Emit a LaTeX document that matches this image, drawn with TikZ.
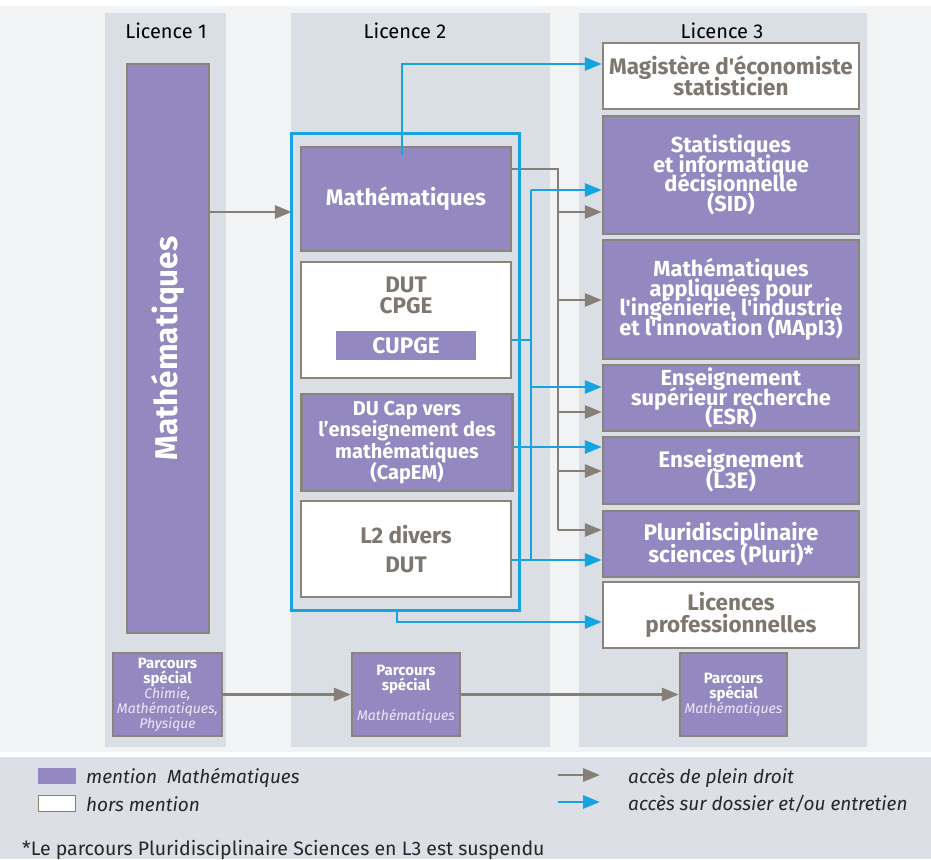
\documentclass[tikz,border=0pt]{standalone}
\usepackage{fontspec}
\setmainfont{Fira Sans}[Ligatures=TeXOff]
\usetikzlibrary{arrows.meta,calc}
\definecolor{mpurple}{HTML}{9388BF}
\definecolor{bordgray}{HTML}{8A847D}
\definecolor{txtgray}{HTML}{7D776F}
\definecolor{colbg}{HTML}{DADEE5}
\definecolor{mainbg}{HTML}{F2F3F5}
\definecolor{legbg}{HTML}{DCDFE5}
\definecolor{ablue}{HTML}{16A3E2}
\definecolor{agray}{HTML}{857F78}
\definecolor{lavtxt}{HTML}{ECE8F8}
\newcommand\ap{'}
\newcommand\tightls{\lineskiplimit=-50pt\relax}
\newcommand\fs[2]{\fontsize{#1}{#2}\selectfont\tightls}
\begin{document}
\begin{tikzpicture}[x=1pt,y=-1pt,
  pbox/.style={draw=bordgray,line width=2.4pt,fill=mpurple,text=white,align=center,inner sep=0pt,
    font=\fs{22.5}{22}\bfseries},
  tight/.style={font=\fs{21.8}{19.6}\bfseries},
  wbox/.style={draw=bordgray,line width=2.4pt,fill=white,text=txtgray,align=center,inner sep=0pt,
    font=\fs{22.5}{22.5}\bfseries},
  parbox/.style={draw=bordgray,line width=2.4pt,fill=mpurple,text=white,align=center,inner sep=0pt,
    font=\fs{14}{15},minimum width=108pt,minimum height=83pt},
  head/.style={font=\fs{20}{22},text=black,inner sep=0pt},
  grayline/.style={draw=agray,line width=2.9pt},
  grayarr/.style={draw=agray,line width=2.9pt,-{Triangle[length=17pt,width=13pt]}},
  blueline/.style={draw=ablue,line width=2.9pt},
  bluearr/.style={draw=ablue,line width=2.9pt,-{Triangle[length=17pt,width=13pt]}},
  legtxt/.style={font=\fs{19}{21}\itshape,text=black!85,inner sep=0pt,anchor=west}
]
\useasboundingbox (0,0) rectangle (931,859);
\fill[white] (0,0) rectangle (931,859);
\fill[mainbg] (0,6) rectangle (931,752);
\fill[legbg] (0,757) rectangle (931,859);
% columns
\fill[colbg] (105,13) rectangle (226,747);
\fill[colbg] (291,13) rectangle (550,747);
\fill[colbg] (579,13) rectangle (867,747);
\node[head] (h1) at (166,31) {Licence 1};
\node[head] (h2) at (405,31) {Licence 2};
\node[head] (h3) at (722,31) {Licence 3};

% L1
\node[pbox,minimum width=82pt,minimum height=569pt] (l1math) at (168,348.5) {};
\node[rotate=90,text=white,font=\fs{31.5}{34}\bfseries,inner sep=0pt] (l1mtxt) at (l1math.center) {Mathématiques};

% L2
\node[minimum width=227pt,minimum height=476pt,inner sep=0pt] (frame) at (405.5,372) {};
\node[pbox,minimum width=210pt,minimum height=104pt] (l2math) at (406,199) {Mathématiques};
\node[wbox,minimum width=210pt,minimum height=116pt] (dutcpge) at (406,320) {};
\node[text=txtgray,align=center,inner sep=0pt,font=\fs{22.5}{21}\bfseries] (dutcpgetxt) at (406,295) {DUT\\CPGE};
\node[fill=mpurple,text=white,inner sep=0pt,minimum width=140pt,minimum height=29pt,font=\fs{22.5}{21}\bfseries] (cupge) at (406,345.5) {CUPGE};
\node[pbox,minimum width=211pt,minimum height=97pt,font=\fs{20}{21.3}\bfseries] (capem) at (407,442.5) {DU Cap vers\\l’enseignement des\\mathématiques\\(CapEM)};
\node[wbox,minimum width=210pt,minimum height=96pt] (l2divers) at (406,549) {L2 divers\\[7pt]DUT};

% L3
\node[wbox,minimum width=256pt,minimum height=66pt,font=\fs{22.5}{21}\bfseries] (mag) at (731,76) {Magistère d\ap économiste\\statisticien};
\node[pbox,tight,minimum width=256pt,minimum height=118pt] (sid) at (731,175) {Statistiques\\et informatique\\décisionnelle\\(SID)};
\node[pbox,tight,minimum width=256pt,minimum height=119pt] (mapi) at (731,299.5) {Mathématiques\\appliquées pour\\l\ap ingénierie, l\ap industrie\\et l\ap innovation (MApI3)};
\node[pbox,tight,minimum width=256pt,minimum height=66pt] (esr) at (731,398) {Enseignement\\supérieur recherche\\(ESR)};
\node[pbox,minimum width=256pt,minimum height=67pt,font=\fs{22.5}{21}\bfseries] (l3e) at (731,470.5) {Enseignement\\(L3E)};
\node[pbox,minimum width=256pt,minimum height=66pt] (pluri) at (731,544) {Pluridisciplinaire\\sciences (Pluri)*};
\node[wbox,minimum width=256pt,minimum height=66pt] (lp) at (731,615) {Licences\\professionnelles};

% parcours
\node[parbox,minimum width=109pt] (p1) at (167.5,694.5) {{\fs{15}{15}\bfseries Parcours}\\{\fs{15}{15}\bfseries spécial}\\\color{lavtxt}\itshape Chimie,\\\color{lavtxt}\itshape Mathématiques,\\\color{lavtxt}\itshape Physique};
\node[parbox] (p2) at (406,694.5) {{\fs{15}{15}\bfseries Parcours}\\{\fs{15}{15}\bfseries spécial}\\[15pt]\color{lavtxt}\itshape Mathématiques};
\node[parbox,minimum width=107pt] (p3) at (733.5,694.5) {{\fs{15}{15}\bfseries Parcours}\\{\fs{15}{15}\bfseries spécial}\\\color{lavtxt}\itshape Mathématiques};

% gray connectors
\draw[grayarr] (l1math.east |- 0,212) -- (frame.west |- 0,212);
\coordinate (gtop) at (558,169);
\draw[grayline] (l2math.east |- gtop) -- (gtop) -- (gtop |- 0,530);
\draw[grayarr] (gtop |- 0,212) -- (sid.west |- 0,212);
\draw[grayarr] (gtop |- 0,300) -- (mapi.west |- 0,300);
\draw[grayarr] (gtop |- 0,412) -- (esr.west |- 0,412);
\draw[grayarr] (gtop |- 0,471) -- (l3e.west |- 0,471);
\draw[grayarr] (gtop |- 0,530) -- (pluri.west |- 0,530);
\draw[grayarr] (p1.east) -- (p2.west);
\draw[grayarr] (p2.east) -- (p3.west);

% blue connectors
\coordinate (mstart) at (402,155);
\draw[bluearr] (mstart) -- (mstart |- 0,64) -- (mag.west |- 0,64);
\coordinate (btop) at (531,190);
\draw[blueline] (btop) -- (btop |- 0,560);
\draw[bluearr] (btop) -- (sid.west |- btop);
\draw[blueline] (dutcpge.east |- 0,340) -- (btop |- 0,340);
\draw[bluearr] (btop |- 0,387) -- (esr.west |- 0,387);
\draw[bluearr] (capem.east |- 0,447) -- (l3e.west |- 0,447);
\draw[bluearr] (l2divers.east |- 0,560) -- (pluri.west |- 0,560);
\coordinate (lpstart) at (397,610);
\draw[bluearr] (lpstart) -- (lpstart |- 0,622) -- (lp.west |- 0,622);
\draw[blueline] (frame.north west) rectangle (frame.south east);

% legend
\node[fill=mpurple,minimum width=38pt,minimum height=16pt,inner sep=0pt] (legp) at (57,776) {};
\node[draw=bordgray!80!olive,line width=1.5pt,fill=white,minimum width=37pt,minimum height=16pt,inner sep=0pt] (legw) at (57,803.5) {};
\node[legtxt] (legpt) at (86,778) {mention\ \ Mathématiques};
\node[legtxt] (legwt) at (86,804) {hors mention};
\coordinate (lga) at (558,775);
\coordinate (lgb) at (558,802);
\draw[grayarr] (lga) -- ++(42,0) coordinate (lgae);
\draw[bluearr] (lgb) -- ++(42,0) coordinate (lgbe);
\node[legtxt] (legat) at (628,778) {accès de plein droit};
\node[legtxt] (legbt) at (628,804) {accès sur dossier et/ou entretien};
\node[font=\fs{19.5}{21},text=black!85,inner sep=0pt,anchor=west] (foot) at (22,850) {*Le parcours Pluridisciplinaire Sciences en L3 est suspendu};
\end{tikzpicture}
\end{document}
